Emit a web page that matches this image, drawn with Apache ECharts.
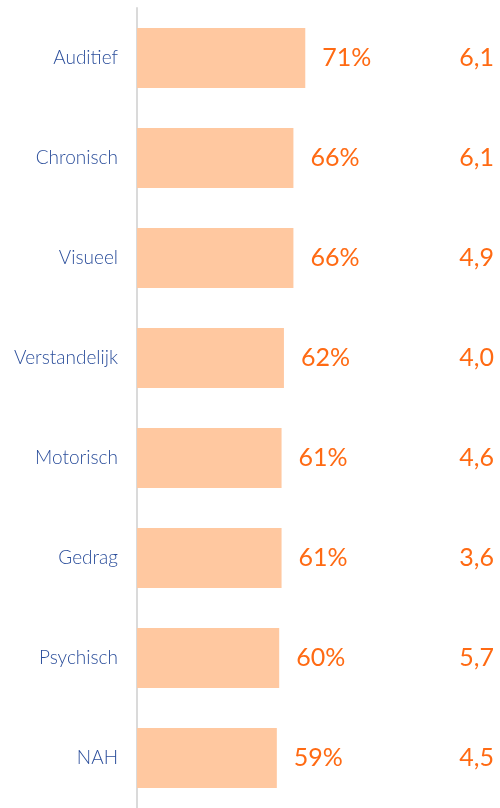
<!DOCTYPE html>
<html lang="nl">
<head>
    <meta charset="UTF-8">
    <title>Beperkingen</title>
    <script src="https://cdn.jsdelivr.net/npm/echarts@6.0.0/dist/echarts.min.js"></script>
    <style>
        html, body { margin: 0; padding: 0; background: #fff; }
        #chart { width: 500px; height: 808px; }
    </style>
</head>
<body>
<div id="chart"></div>
<script>
    // data
    var categories = ['Auditief', 'Chronisch', 'Visueel', 'Verstandelijk', 'Motorisch', 'Gedrag', 'Psychisch', 'NAH'];
    var percentages = [71, 66, 66, 62, 61, 61, 60, 59];
    var scores = ['6,1', '6,1', '4,9', '4,0', '4,6', '3,6', '5,7', '4,5'];

    var chart = echarts.init(document.getElementById('chart'));

    chart.setOption({
        animation: false,
        grid: {left: 137, right: 126, top: 8, bottom: 0},
        xAxis: {
            type: 'value',
            min: 0,
            max: 100,
            show: false
        },
        yAxis: [{
            type: 'category',
            data: categories,
            inverse: true,
            axisTick: {show: false},
            axisLine: {show: true, lineStyle: {color: '#dadada', width: 2}},
            axisLabel: {
                margin: 19,
                color: '#2b4e9b',
                fontFamily: 'Lato',
                fontWeight: 300,
                fontSize: 19
            }
        }, {
            type: 'category',
            data: categories,
            inverse: true,
            position: 'right',
            axisTick: {show: false},
            axisLine: {show: false},
            axisLabel: {
                margin: 120,
                align: 'right',
                color: '#ff6a13',
                fontFamily: 'Lato',
                fontSize: 25,
                formatter: function (value, idx) {
                    return scores[idx];
                }
            }
        }],
        series: [{
            type: 'bar',
            data: percentages,
            barWidth: 60,
            itemStyle: {color: '#ffc8a0'},
            label: {
                show: true,
                position: 'right',
                distance: 17,
                formatter: '{c}%',
                color: '#ff6a13',
                fontFamily: 'Lato',
                fontSize: 25
            }
        }]
    });
</script>
</body>
</html>
